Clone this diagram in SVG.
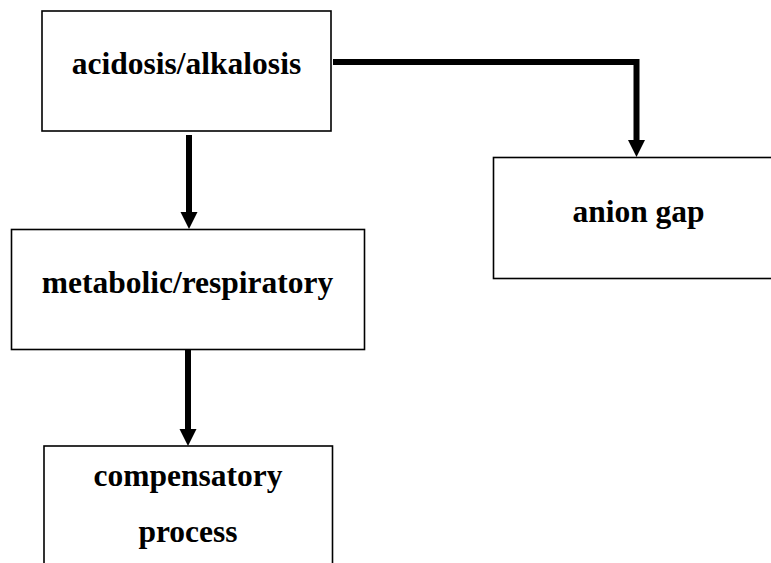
<svg xmlns="http://www.w3.org/2000/svg" width="771" height="563" viewBox="0 0 771 563">
<style>
.box{fill:#fff;stroke:#000;stroke-width:1.6}
.lbl{font-family:"Liberation Serif","Times New Roman",serif;font-weight:bold;font-size:31.5px;fill:#000;text-anchor:middle}
.conn{fill:none;stroke:#000;stroke-width:6;stroke-linejoin:miter}
</style>
<defs>
<marker id="ah" markerUnits="userSpaceOnUse" markerWidth="17" markerHeight="18" refX="0" refY="8.5" orient="auto" viewBox="0 0 17 17" overflow="visible">
<path d="M0,0 L17,8.5 L0,17 z" fill="#000"/>
</marker>
</defs>
<rect width="771" height="563" fill="#fff"/>
<g id="connectors">
<path class="conn" d="M333,62 H636.5 V140" marker-end="url(#ah)"/>
<path class="conn" d="M189,135 V212" marker-end="url(#ah)"/>
<path class="conn" d="M188,350 V429" marker-end="url(#ah)"/>
</g>
<g id="n1">
<rect class="box" x="42" y="11" width="289" height="120"/>
<text class="lbl" x="186.5" y="74">acidosis/alkalosis</text>
</g>
<g id="n2">
<rect class="box" x="493.5" y="157.5" width="300" height="121"/>
<text class="lbl" x="638.5" y="222">anion gap</text>
</g>
<g id="n3">
<rect class="box" x="11.5" y="229.5" width="353" height="120"/>
<text class="lbl" x="187.5" y="293">metabolic/respiratory</text>
</g>
<g id="n4">
<rect class="box" x="44" y="446" width="288.5" height="130"/>
<text class="lbl" x="188" y="486">compensatory</text>
<text class="lbl" x="188" y="542">process</text>
</g>
</svg>
